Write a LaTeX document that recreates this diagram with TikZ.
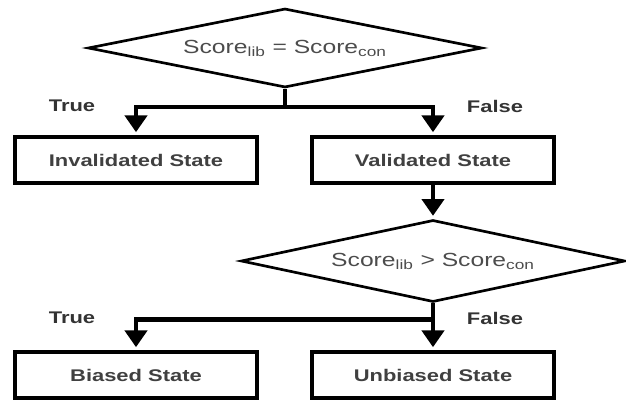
\documentclass[tikz,border=0pt]{standalone}
\usepackage{fontspec}
\setmainfont[FakeStretch=1.3]{Liberation Sans}
\usetikzlibrary{shapes.geometric,arrows.meta}

\begin{document}
\begin{tikzpicture}[x=0.025cm,y=-0.025cm,
  state/.style={draw,line width=2.8pt,minimum width=6.05cm,minimum height=1.15cm,inner sep=0pt,font=\fontsize{12}{14}\selectfont\bfseries,text=black!75},
  decision/.style={diamond,draw,aspect=5,line width=1.9pt,inner sep=0pt,font=\fontsize{13.5}{16}\selectfont,text=black!70},
  lbl/.style={font=\fontsize{12}{14}\selectfont\bfseries,text=black!80},
  flow/.style={line width=3.2pt,-{Triangle[width=0.55cm,length=0.42cm]},shorten >=2pt}]
\useasboundingbox (0,0) rectangle (626,400);
\node[decision,minimum width=9.85cm,minimum height=1.975cm] (eq) at (285,48) {Score\textsubscript{lib} = Score\textsubscript{con}};
\node[state] (invalid) at (136,160) {Invalidated State};
\node[state] (valid) at (433,160) {Validated State};
\node[decision,minimum width=9.6cm,minimum height=2.05cm] (gt) at (433,261) {Score\textsubscript{lib} > Score\textsubscript{con}};
\node[state] (biased) at (136,375) {Biased State};
\node[state] (unbiased) at (433,375) {Unbiased State};
\node[lbl] (true1) at (72,106) {True};
\node[lbl] (false1) at (495,106) {False};
\node[lbl] (true2) at (72,318) {True};
\node[lbl] (false2) at (495,318) {False};
\draw[flow] (eq.south) -- ++(0,18) -| (invalid.north);
\draw[flow] (eq.south) -- ++(0,18) -| (valid.north);
\draw[flow] (valid) -- (gt);
\draw[flow] (gt.south) -- ++(0,16) -| (biased.north);
\draw[flow] (gt.south) -- (unbiased.north);
\end{tikzpicture}
\end{document}
